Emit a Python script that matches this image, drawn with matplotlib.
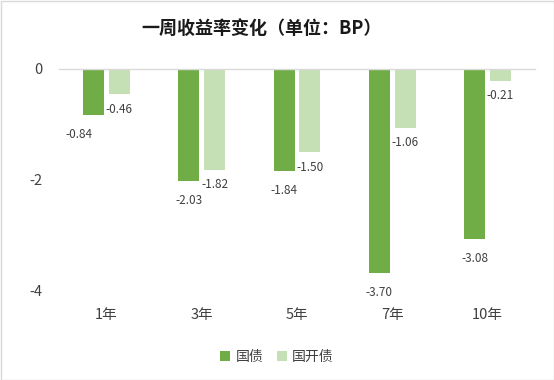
import matplotlib
matplotlib.use("Agg")
import matplotlib.pyplot as plt
import numpy as np

plt.rcParams['font.family'] = ['Noto Sans CJK SC', 'DejaVu Sans']

categories = ["1年", "3年", "5年", "7年", "10年"]
guozhai = [-0.84, -2.03, -1.84, -3.70, -3.08]
guokaizhai = [-0.46, -1.82, -1.50, -1.06, -0.21]
series_names = ["国债", "国开债"]
title = "一周收益率变化（单位：BP）"

c_dark = "#70AD47"
c_light = "#C5E0B4"

fig = plt.figure(figsize=(5.54, 3.80), dpi=100)
ax = fig.add_axes([59/554, 1-290/380, (535-59)/554, (290-69)/380])

x = np.arange(len(categories))
w = 0.22
gap = 0.05
b1 = ax.bar(x - (w+gap)/2, guozhai, w, color=c_dark, label=series_names[0])
b2 = ax.bar(x + (w+gap)/2, guokaizhai, w, color=c_light, label=series_names[1])

ax.set_xlim(-0.5, len(categories)-0.5)
ax.set_ylim(-4, 0)
ax.set_yticks([0, -2, -4])
ax.set_yticklabels(["0", "-2", "-4"])
for s in ["left", "right", "bottom"]:
    ax.spines[s].set_visible(False)
ax.spines["top"].set_color("#D9D9D9")
ax.spines["top"].set_linewidth(1)
ax.tick_params(axis="both", length=0, labelsize=10.5, labelcolor="#404040")
ax.tick_params(axis="y", pad=12)
ax.set_xticks(x)
ax.set_xticklabels(categories)
ax.tick_params(axis="x", pad=13)

for i, (bar, v) in enumerate(zip(b1, guozhai)):
    dx = -11 if i == 0 else 0
    ax.annotate(f"{v:.2f}", (bar.get_x()+bar.get_width()/2, v), xytext=(dx, -14),
                textcoords="offset points", ha="center", va="center", fontsize=8.5, color="#404040")
for bar, v in zip(b2, guokaizhai):
    ax.annotate(f"{v:.2f}", (bar.get_x()+bar.get_width()/2, v), xytext=(0, -11),
                textcoords="offset points", ha="center", va="center", fontsize=8.5, color="#404040")

fig.text(262/554, 1-28/380, title, ha="center", va="center", fontsize=13, fontweight="bold", color="#1a1a1a")

fig.legend(handles=[b1, b2], labels=series_names, loc="center", bbox_to_anchor=(0.5, 1-357/380),
           ncol=2, frameon=False, fontsize=10, handlelength=0.7, handleheight=0.7,
           columnspacing=1.0, handletextpad=0.4, labelcolor="#404040")

border = plt.Rectangle((0.5/554, 0.5/380), 1-1/554, 1-1/380, transform=fig.transFigure,
                       fill=False, edgecolor="#D9D9D9", linewidth=1)
fig.add_artist(border)

fig.savefig("out.png", dpi=100)
